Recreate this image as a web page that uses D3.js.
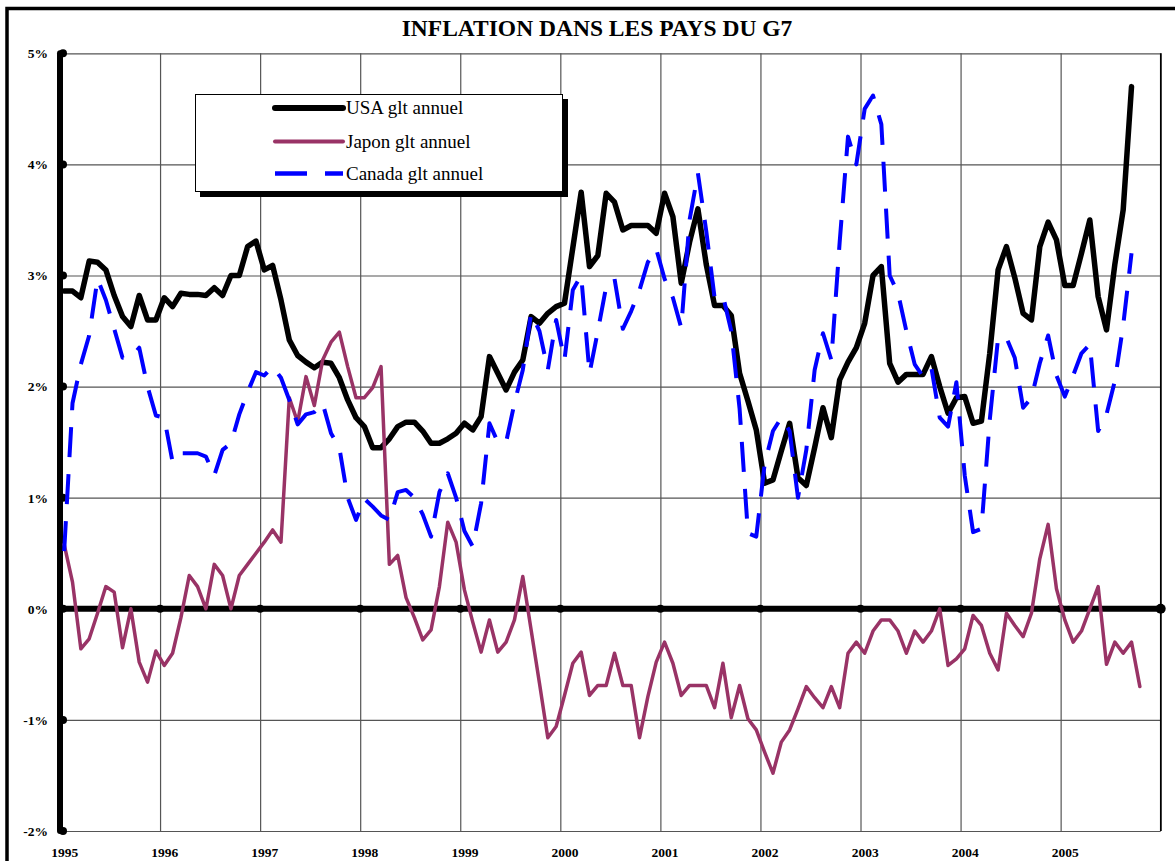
<!DOCTYPE html>
<html>
<head>
<meta charset="utf-8">
<script src="https://cdnjs.cloudflare.com/ajax/libs/d3/7.8.5/d3.min.js"></script>
<style>
    body { margin: 0; background: #fff; }
    text { font-family: "Liberation Serif", "Times New Roman", serif; }
</style>
</head>
<body>
<div id="chart"></div>
<script>
// years on the category axis (12 months each)
const years = ["1995", "1996", "1997", "1998", "1999", "2000", "2001", "2002", "2003", "2004", "2005"];
const yTicks = [-2, -1, 0, 1, 2, 3, 4, 5];
const seriesNames = ["USA glt annuel", "Japon glt annuel", "Canada glt annuel"];

// monthly year-on-year change, % (from Jan 1995)
const usa = [2.86, 2.86, 2.80, 3.13, 3.12, 3.05, 2.82, 2.63, 2.54, 2.82, 2.60, 2.60,
    2.80, 2.72, 2.84, 2.83, 2.83, 2.82, 2.89, 2.82, 3.00, 3.00, 3.26, 3.31,
    3.05, 3.09, 2.78, 2.42, 2.28, 2.22, 2.17, 2.22, 2.21, 2.08, 1.88, 1.72,
    1.64, 1.45, 1.45, 1.53, 1.64, 1.68, 1.68, 1.60, 1.49, 1.49, 1.53, 1.58,
    1.67, 1.61, 1.73, 2.27, 2.12, 1.97, 2.13, 2.24, 2.63, 2.57, 2.66, 2.72,
    2.75, 3.25, 3.75, 3.08, 3.18, 3.74, 3.66, 3.41, 3.45, 3.45, 3.45, 3.38,
    3.74, 3.53, 2.93, 3.30, 3.60, 3.10, 2.73, 2.73, 2.64, 2.12, 1.87, 1.61,
    1.13, 1.16, 1.42, 1.67, 1.18, 1.11, 1.45, 1.81, 1.54, 2.06, 2.22, 2.35,
    2.57, 3.00, 3.08, 2.21, 2.04, 2.11, 2.11, 2.11, 2.27, 2.00, 1.76, 1.90,
    1.91, 1.67, 1.69, 2.30, 3.05, 3.26, 2.98, 2.66, 2.60, 3.26, 3.48, 3.32,
    2.91, 2.91, 3.20, 3.50, 2.81, 2.51, 3.10, 3.59, 4.70];

const japon = [0.58, 0.24, -0.36, -0.27, -0.04, 0.20, 0.15, -0.35, 0.00, -0.48, -0.66, -0.38,
    -0.51, -0.40, -0.08, 0.30, 0.20, 0.00, 0.40, 0.30, 0.00, 0.30, 0.40, 0.50,
    0.60, 0.71, 0.60, 1.90, 1.68, 2.09, 1.83, 2.24, 2.40, 2.49, 2.18, 1.90,
    1.90, 1.99, 2.18, 0.40, 0.48, 0.10, -0.08, -0.28, -0.19, 0.20, 0.78, 0.60,
    0.17, -0.12, -0.39, -0.10, -0.39, -0.30, -0.10, 0.29, -0.19, -0.67, -1.16, -1.06,
    -0.78, -0.49, -0.39, -0.78, -0.69, -0.69, -0.40, -0.69, -0.69, -1.16, -0.79, -0.48,
    -0.30, -0.49, -0.78, -0.69, -0.69, -0.69, -0.89, -0.49, -0.98, -0.69, -0.99, -1.09,
    -1.29, -1.48, -1.20, -1.09, -0.90, -0.70, -0.80, -0.89, -0.70, -0.89, -0.40, -0.30,
    -0.40, -0.20, -0.10, -0.10, -0.20, -0.40, -0.20, -0.30, -0.20, 0.00, -0.51, -0.45,
    -0.36, -0.06, -0.15, -0.40, -0.55, -0.04, -0.15, -0.25, -0.04, 0.45, 0.76, 0.18,
    -0.10, -0.30, -0.20, 0.00, 0.20, -0.50, -0.30, -0.40, -0.30, -0.70];

const canada = [0.52, 1.85, 2.20, 2.46, 2.97, 2.78, 2.52, 2.26, 2.26, 2.35, 2.00, 1.74,
    1.72, 1.32, 1.40, 1.40, 1.40, 1.37, 1.20, 1.43, 1.49, 1.75, 1.95, 2.13,
    2.10, 2.18, 2.08, 1.88, 1.66, 1.75, 1.77, 1.85, 1.58, 1.45, 1.00, 0.80,
    0.99, 0.92, 0.84, 0.80, 1.05, 1.07, 1.00, 0.85, 0.65, 1.05, 1.22, 1.00,
    0.70, 0.56, 0.95, 1.67, 1.50, 1.50, 1.85, 2.15, 2.66, 2.50, 2.15, 2.60,
    2.24, 2.87, 3.00, 2.12, 2.50, 2.90, 2.97, 2.52, 2.68, 2.87, 3.12, 3.24,
    2.97, 2.80, 2.53, 3.50, 3.92, 3.40, 2.80, 2.82, 2.50, 1.80, 0.68, 0.65,
    1.30, 1.60, 1.72, 1.60, 1.00, 1.43, 2.15, 2.48, 2.24, 3.30, 4.25, 4.00,
    4.50, 4.62, 4.36, 3.00, 2.84, 2.50, 2.20, 2.09, 2.17, 1.72, 1.64, 2.04,
    1.20, 0.69, 0.72, 1.70, 2.44, 2.44, 2.26, 1.81, 1.90, 2.21, 2.46, 2.10,
    1.91, 2.10, 2.30, 2.38, 1.60, 1.75, 2.05, 2.55, 3.20];

function draw_chart() {
    const W = 1175, H = 861;
    const left = 60, right = 1160.7, top = 53.3, bottom = 831;
    const nMonths = years.length * 12;

    const svg = d3.select("#chart").append("svg")
        .attr("width", W)
        .attr("height", H)
        .style("display", "block");

    svg.append("rect").attr("width", W).attr("height", H).attr("fill", "#fff");

    // outer frame (cut by the picture edge on the right and bottom)
    svg.append("path")
        .attr("d", `M7,${H + 10} L7,8.5 L${W + 10},8.5`)
        .attr("fill", "none")
        .attr("stroke", "#000")
        .attr("stroke-width", 3.5);

    const x = d3.scaleLinear().domain([0, nMonths]).range([left, right]);
    const y = d3.scaleLinear().domain([-2, 5]).range([bottom, top]);

    svg.append("text")
        .attr("x", 597)
        .attr("y", 36)
        .attr("text-anchor", "middle")
        .style("font-size", "23.5px")
        .style("font-weight", "bold")
        .text("INFLATION DANS LES PAYS DU G7");

    // horizontal grid + y labels
    const gy = svg.append("g").attr("transform", `translate(${left},0)`)
        .call(d3.axisLeft(y).tickValues(yTicks).tickSize(-(right - left)).tickPadding(12)
            .tickFormat(d => d + "%"));
    gy.select(".domain").remove();
    gy.selectAll("line").attr("stroke", "#555").attr("stroke-width", 1.2);
    gy.selectAll("text")
        .style("font-family", "'Liberation Serif', serif")
        .style("font-size", "13.5px")
        .style("font-weight", "bold")
        .attr("fill", "#000");

    // vertical grid at year boundaries
    const gx = svg.append("g").attr("transform", `translate(0,${bottom})`)
        .call(d3.axisBottom(x).tickValues(d3.range(12, nMonths + 1, 12)).tickSize(-(bottom - top)).tickFormat(""));
    gx.select(".domain").remove();
    gx.selectAll("line").attr("stroke", "#555").attr("stroke-width", 1.2);

    // year labels, centred on the first month of each year
    const gl = svg.append("g").attr("transform", `translate(0,${bottom})`)
        .call(d3.axisBottom(x).tickValues(years.map((d, k) => k * 12 + 0.5)).tickSize(0).tickPadding(16)
            .tickFormat((d, k) => years[k]));
    gl.select(".domain").remove();
    gl.selectAll("text")
        .style("font-family", "'Liberation Serif', serif")
        .style("font-size", "13.5px")
        .style("font-weight", "bold")
        .attr("fill", "#000");

    // right border of plot
    svg.append("line")
        .attr("x1", right).attr("x2", right).attr("y1", top).attr("y2", bottom)
        .attr("stroke", "#000").attr("stroke-width", 1.5);

    // zero line with year dots
    svg.append("line")
        .attr("x1", left).attr("x2", right).attr("y1", y(0)).attr("y2", y(0))
        .attr("stroke", "#000").attr("stroke-width", 6);
    svg.selectAll(".zdot")
        .data(d3.range(12, nMonths + 1, 12))
        .enter()
        .append("circle")
        .attr("cx", d => x(d))
        .attr("cy", y(0))
        .attr("r", d => d === nMonths ? 5 : 4)
        .attr("fill", "#000");

    // value axis with tick dots
    svg.append("line")
        .attr("x1", left).attr("x2", left).attr("y1", top).attr("y2", bottom)
        .attr("stroke", "#000").attr("stroke-width", 6).attr("stroke-linecap", "round");
    svg.selectAll(".ydot")
        .data(yTicks)
        .enter()
        .append("circle")
        .attr("cx", left + 3)
        .attr("cy", d => y(d))
        .attr("r", 4)
        .attr("fill", "#000");

    const line = d3.line()
        .x((d, i) => x(i + 0.5))
        .y(d => y(d));

    svg.append("path").datum(usa)
        .attr("d", line)
        .attr("fill", "none")
        .attr("stroke", "#000")
        .attr("stroke-width", 5.5)
        .attr("stroke-linejoin", "round")
        .attr("stroke-linecap", "round");

    svg.append("path").datum(japon)
        .attr("d", line)
        .attr("fill", "none")
        .attr("stroke", "#993366")
        .attr("stroke-width", 3.5)
        .attr("stroke-linejoin", "round")
        .attr("stroke-linecap", "round");

    svg.append("path").datum(canada)
        .attr("d", line)
        .attr("fill", "none")
        .attr("stroke", "#0000ff")
        .attr("stroke-width", 4)
        .attr("stroke-dasharray", "30,17")
        .attr("stroke-linejoin", "round");

    // legend
    const lg = svg.append("g");
    lg.append("rect")
        .attr("x", 200).attr("y", 99).attr("width", 368).attr("height", 98)
        .attr("fill", "#000");
    lg.append("rect")
        .attr("x", 195.5).attr("y", 94.5).attr("width", 367).attr("height", 97)
        .attr("fill", "#fff").attr("stroke", "#000").attr("stroke-width", 1);

    const legendStyle = [
        { color: "#000", width: 6, dash: null, cap: "round" },
        { color: "#993366", width: 4, dash: null, cap: "round" },
        { color: "#0000ff", width: 4.5, dash: "32,18", cap: "butt" }
    ];
    const rows = [108, 141.5, 173.5];
    seriesNames.forEach((name, k) => {
        lg.append("line")
            .attr("x1", 275).attr("x2", 343)
            .attr("y1", rows[k]).attr("y2", rows[k])
            .attr("stroke", legendStyle[k].color)
            .attr("stroke-width", legendStyle[k].width)
            .attr("stroke-linecap", legendStyle[k].cap)
            .attr("stroke-dasharray", legendStyle[k].dash);
        lg.append("text")
            .attr("x", 346)
            .attr("y", rows[k] + 6)
            .style("font-size", "19px")
            .text(name);
    });
}

draw_chart();
</script>
</body>
</html>
